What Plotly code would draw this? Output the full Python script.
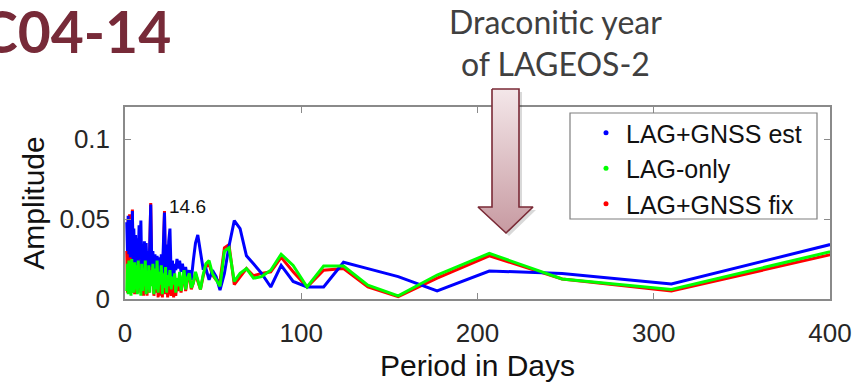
import plotly.graph_objects as go

# ---------------- data ----------------
period_days = [
    1.0, 1.4, 1.8, 2.2, 2.6, 3.0, 3.4, 3.8, 4.2, 4.6,
    5.0, 5.5, 6.0, 6.5, 7.0, 7.5, 8.0, 8.5, 9.0, 9.5,
    10.0, 10.5, 11.0, 11.5, 12.0, 12.5, 13.0, 13.5, 14.0, 14.6,
    15.2, 15.8, 16.4, 17.0, 17.6, 18.2, 18.8, 19.4, 20.0, 20.6,
    21.2, 21.8, 22.4, 23.0, 23.6, 24.2, 24.8, 25.5, 26.2, 26.9, 27.6,
    28.2, 28.8, 29.5, 30.2, 31.0, 31.8, 32.6, 33.5, 34.4, 35.4,
    36.5, 37.6, 38.75, 40.0, 41.3,
    42.8, 44.3, 45.9, 47.7, 49.6, 51.7, 53.9, 56.4, 59.0, 62.0,
    65.3, 68.9, 72.9, 77.5, 82.7, 88.6, 95.4, 103.3, 112.7, 124.0,
    137.8, 155.0, 177.1, 206.7, 248.0, 310.0, 413.3,
]

amp_lag_gnss_est = [
    0.048, 0.030, 0.052, 0.028, 0.050, 0.026, 0.047, 0.030, 0.055, 0.024,
    0.044, 0.022, 0.040, 0.020, 0.038, 0.022, 0.046, 0.025, 0.049, 0.018,
    0.034, 0.020, 0.036, 0.016, 0.035, 0.018, 0.030, 0.015, 0.032, 0.059,
    0.020, 0.030, 0.016, 0.028, 0.014, 0.027, 0.016, 0.026, 0.012, 0.028,
    0.015, 0.032, 0.054, 0.018, 0.034, 0.014, 0.036, 0.044, 0.014, 0.024, 0.012,
    0.022, 0.018, 0.025, 0.019, 0.024, 0.017, 0.022, 0.015, 0.020, 0.013,
    0.018, 0.012, 0.024, 0.035, 0.040,
    0.030, 0.019, 0.019, 0.012, 0.018, 0.014, 0.0056, 0.016, 0.033, 0.049,
    0.044, 0.027, 0.022, 0.016, 0.0075, 0.021, 0.011, 0.0075, 0.0075, 0.023,
    0.019, 0.014, 0.005, 0.0175, 0.016, 0.0094, 0.0376,
]

amp_lag_only = [
    0.005, 0.022, 0.003, 0.024, 0.006, 0.022, 0.002, 0.025, 0.008, 0.020,
    0.004, 0.023, 0.006, 0.021, 0.003, 0.024, 0.007, 0.018, 0.002, 0.022,
    0.005, 0.019, 0.008, 0.024, 0.003, 0.017, 0.006, 0.021, 0.004, 0.018,
    0.008, 0.022, 0.003, 0.019, 0.006, 0.024, 0.004, 0.017, 0.009, 0.021,
    0.003, 0.016, 0.007, 0.020, 0.004, 0.015, 0.008, 0.018, 0.006, 0.014, 0.009,
    0.016, 0.004, 0.013, 0.008, 0.017, 0.005, 0.012, 0.018, 0.006, 0.013,
    0.016, 0.007, 0.010, 0.017, 0.012,
    0.006, 0.015, 0.022, 0.024, 0.016, 0.012, 0.008, 0.030, 0.032, 0.011,
    0.016, 0.019, 0.013, 0.014, 0.018, 0.028, 0.021, 0.0075, 0.0206, 0.0206,
    0.0087, 0.002, 0.015, 0.0285, 0.0125, 0.006, 0.033,
]

amp_lag_gnss_fix = [
    0.030, 0.004, 0.050, 0.006, 0.053, 0.008, 0.030, 0.004, 0.056, 0.010,
    0.026, 0.003, 0.020, 0.005, 0.022, 0.004, 0.030, 0.006, 0.024, 0.003,
    0.018, 0.002, 0.020, 0.006, 0.016, 0.002, 0.021, 0.004, 0.030, 0.060,
    0.012, 0.020, 0.002, 0.015, 0.004, 0.020, 0.001, 0.018, 0.002, 0.016,
    0.001, 0.030, 0.055, 0.003, 0.018, 0.001, 0.020, 0.006, 0.002, 0.012, 0.001,
    0.014, 0.002, 0.012, 0.005, 0.015, 0.004, 0.011, 0.016, 0.005, 0.012,
    0.015, 0.006, 0.010, 0.016, 0.011,
    0.006, 0.014, 0.020, 0.022, 0.015, 0.012, 0.011, 0.032, 0.034, 0.009,
    0.014, 0.019, 0.0145, 0.016, 0.017, 0.026, 0.017, 0.0075, 0.018, 0.019,
    0.0075, 0.0015, 0.013, 0.027, 0.0125, 0.005, 0.031,
]

series_names = ["LAG+GNSS est", "LAG-only", "LAG+GNSS fix"]
x_tick_vals = [0, 100, 200, 300, 400]
y_tick_vals = [0, 0.05, 0.1]
y_tick_text = ["0", "0.05", "0.1"]
peak_label = "14.6"
peak_period = 14.6
peak_amp = 0.059

# arrow outline in page pixels (decoration)
arrow_px_x = [492, 519, 519, 533, 506, 478, 492, 492]
arrow_px_y = [89, 89, 207, 207, 233, 207, 207, 89]

# ---------------- layout geometry ----------------
W, H = 859, 390
PL, PR, PT, PB = 125, 830, 107, 299

BLUE, GREEN, RED = "#0000FF", "#00FF00", "#FF0000"
AXC = "#8a8a8a"
FONT = "Liberation Sans"

fig = go.Figure()

# data lines (red underneath, then blue, then green on top)
for name, ys, col in [
    (series_names[2], amp_lag_gnss_fix, RED),
    (series_names[0], amp_lag_gnss_est, BLUE),
    (series_names[1], amp_lag_only, GREEN),
]:
    fig.add_trace(go.Scatter(
        x=period_days, y=ys, mode="lines", name=name, showlegend=False,
        line=dict(color=col, width=3), xaxis="x", yaxis="y",
    ))

# legend entries (dot markers, as in the original)
for name, col in zip(series_names, [BLUE, GREEN, RED]):
    fig.add_trace(go.Scatter(
        x=[None], y=[None], mode="markers", name=name,
        marker=dict(color=col, size=5), xaxis="x", yaxis="y",
    ))

# arrow shadow + gradient arrow on a full-page overlay axis
fig.add_trace(go.Scatter(
    x=[v + 3 for v in arrow_px_x], y=[v + 3 for v in arrow_px_y],
    mode="lines", fill="toself", fillcolor="rgba(0,0,0,0.15)",
    line=dict(width=0, color="rgba(0,0,0,0)"), hoverinfo="skip",
    showlegend=False, xaxis="x2", yaxis="y2",
))
fig.add_trace(go.Scatter(
    x=arrow_px_x, y=arrow_px_y, mode="lines", fill="toself",
    fillgradient=dict(type="vertical",
                      colorscale=[[0, "#C79AA1"], [1, "#F4E7E9"]]),
    line=dict(width=1.6, color="#7A2A36"), hoverinfo="skip",
    showlegend=False, xaxis="x2", yaxis="y2",
))

fig.update_layout(
    width=W, height=H,
    margin=dict(l=0, r=0, t=0, b=0, autoexpand=False),
    paper_bgcolor="white", plot_bgcolor="rgba(0,0,0,0)",
    font=dict(family=FONT, color="#262626"),
    xaxis=dict(
        domain=[PL / W, PR / W], range=[0, 400], automargin=False,
        tickvals=x_tick_vals, ticks="inside", ticklen=6, tickwidth=1,
        tickcolor=AXC, showline=True, linecolor=AXC, linewidth=1.5,
        mirror="ticks", showgrid=False, zeroline=False,
        tickfont=dict(size=26, family=FONT, color="#262626"),
        ticklabelstandoff=10,
        title=dict(text="Period in Days", font=dict(size=30, family=FONT, color="#111111"),
                   standoff=8),
        anchor="y",
    ),
    yaxis=dict(
        domain=[1 - PB / H, 1 - PT / H], range=[0, 0.12], automargin=False,
        tickvals=y_tick_vals, ticktext=y_tick_text, ticks="inside",
        ticklen=6, tickwidth=1, tickcolor=AXC, showline=True,
        linecolor=AXC, linewidth=1.5, mirror="ticks", showgrid=False,
        zeroline=False, tickfont=dict(size=26, family=FONT, color="#262626"),
        ticklabelstandoff=8,
        title=dict(text="Amplitude", font=dict(size=30, family=FONT, color="#111111"),
                   standoff=6),
        anchor="x",
    ),
    xaxis2=dict(domain=[0, 1], range=[0, W], visible=False, anchor="y2",
                fixedrange=True, automargin=False),
    yaxis2=dict(domain=[0, 1], range=[H, 0], visible=False, anchor="x2",
                fixedrange=True, automargin=False),
    legend=dict(
        x=586 / W, y=1 - 110 / H, xanchor="left", yanchor="top",
        bgcolor="rgba(0,0,0,0)", borderwidth=0,
        font=dict(size=25, family=FONT, color="#111111"),
        traceorder="normal",
    ),
    showlegend=True,
    shapes=[dict(type="rect", xref="paper", yref="paper",
                 x0=570 / W, x1=817 / W, y0=1 - 219 / H, y1=1 - 113 / H,
                 line=dict(color="#7f7f7f", width=1.2), fillcolor="white",
                 layer="above")],
)

fig.add_annotation(
    x=peak_period + 21, y=peak_amp - 0.001, xref="x", yref="y",
    text=peak_label, showarrow=False, xanchor="center", yanchor="middle",
    font=dict(size=19, family=FONT, color="#111111"),
)
fig.add_annotation(
    x=173 / W, y=1 - 31 / H, xref="paper", yref="paper",
    text="<b>C04-14</b>", showarrow=False, xanchor="right", yanchor="middle",
    font=dict(size=57, family="Lato", color="#772A38"),
)
fig.add_annotation(
    x=555 / W, y=1 - 42 / H, xref="paper", yref="paper",
    text="Draconitic year<br>of LAGEOS-2", showarrow=False,
    xanchor="center", yanchor="middle", align="center",
    font=dict(size=32, family="Lato", color="#404040"),
)

fig.write_html("out.html")
